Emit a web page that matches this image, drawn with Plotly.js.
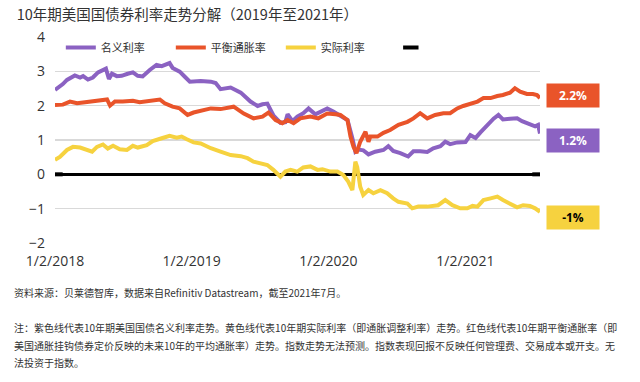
<!DOCTYPE html>
<html>
<head>
<meta charset="utf-8">
<script src="https://cdn.plot.ly/plotly-3.0.1.min.js"></script>
<style>html,body{margin:0;padding:0;background:#fff;}#chart{width:640px;height:382px;}</style>
</head>
<body>
<div id="chart"></div>
<script>
const titleText = "10年期美国国债券利率走势分解（2019年至2021年）";
const seriesNames = ["名义利率", "平衡通胀率", "实际利率"];
const seriesColors = ["#8b62c2", "#e9542a", "#f6d23f"];
const endLabels = ["1.2%", "2.2%", "-1%"];
const xTickVals = ["2018-01-02", "2019-01-02", "2020-01-02", "2021-01-02"];
const xTickText = ["1/2/2018", "1/2/2019", "1/2/2020", "1/2/2021"];
const yTickVals = [-2, -1, 0, 1, 2, 3, 4];
const sourceNote = "资料来源：贝莱德智库，数据来自Refinitiv Datastream，截至2021年7月。";
const noteLines = [
  "注：紫色线代表10年期美国国债名义利率走势。黄色线代表10年期实际利率（即通胀调整利率）走势。红色线代表10年期平衡通胀率（即",
  "美国通胀挂钩债券定价反映的未来10年的平均通胀率）走势。指数走势无法预测。指数表现回报不反映任何管理费、交易成本或开支。无",
  "法投资于指数。"
];

const nominalDates = ["2018-01-02","2018-01-15","2018-01-23","2018-02-03","2018-02-11","2018-02-24","2018-03-10","2018-03-18","2018-03-31","2018-04-13","2018-04-27","2018-05-10","2018-05-18","2018-05-26","2018-06-03","2018-06-16","2018-06-29","2018-07-15","2018-07-29","2018-08-11","2018-08-24","2018-09-12","2018-09-30","2018-10-14","2018-11-04","2018-11-12","2018-12-01","2018-12-14","2018-12-28","2019-01-26","2019-02-22","2019-03-07","2019-03-20","2019-04-16","2019-05-13","2019-06-08","2019-06-27","2019-07-10","2019-07-23","2019-08-08","2019-08-27","2019-09-09","2019-09-15","2019-09-28","2019-10-11","2019-10-27","2019-11-10","2019-11-28","2019-12-17","2019-12-30","2020-01-15","2020-02-03","2020-02-22","2020-03-06","2020-03-14","2020-03-22","2020-04-04","2020-04-18","2020-05-06","2020-05-28","2020-06-10","2020-06-23","2020-07-12","2020-08-02","2020-08-16","2020-09-03","2020-09-22","2020-10-08","2020-10-27","2020-11-09","2020-11-22","2020-12-11","2021-01-02","2021-01-15","2021-01-29","2021-02-11","2021-03-02","2021-03-18","2021-03-31","2021-04-12","2021-05-01","2021-05-20","2021-06-02","2021-06-18","2021-07-07","2021-07-15","2021-07-20"];
const nominalValues = [2.46,2.55,2.63,2.75,2.80,2.88,2.82,2.86,2.76,2.82,2.97,3.04,3.08,2.78,2.93,2.86,2.87,2.93,2.97,2.87,2.85,3.04,3.19,3.15,3.24,3.10,2.99,2.85,2.70,2.72,2.70,2.66,2.48,2.53,2.38,2.12,1.99,2.04,2.06,1.72,1.50,1.52,1.75,1.55,1.68,1.78,1.92,1.75,1.87,1.92,1.83,1.70,1.58,1.05,0.66,0.72,0.70,0.58,0.66,0.71,0.82,0.68,0.62,0.52,0.67,0.67,0.65,0.76,0.82,0.95,0.88,0.93,0.94,1.14,1.06,1.22,1.44,1.62,1.73,1.60,1.62,1.63,1.55,1.49,1.40,1.44,1.19];

const breakevenDates = ["2018-01-02","2018-01-23","2018-02-11","2018-03-02","2018-03-18","2018-04-13","2018-05-02","2018-05-21","2018-05-29","2018-06-11","2018-07-02","2018-07-29","2018-08-16","2018-09-12","2018-10-09","2018-10-22","2018-11-12","2018-12-01","2018-12-22","2019-01-07","2019-01-26","2019-02-22","2019-03-20","2019-04-24","2019-05-21","2019-06-16","2019-07-10","2019-07-26","2019-08-14","2019-09-01","2019-09-15","2019-10-01","2019-10-19","2019-11-15","2019-12-06","2019-12-30","2020-01-21","2020-02-03","2020-02-22","2020-03-01","2020-03-09","2020-03-17","2020-03-27","2020-04-10","2020-04-18","2020-04-23","2020-05-12","2020-05-28","2020-06-15","2020-07-07","2020-07-31","2020-08-16","2020-09-03","2020-09-22","2020-10-13","2020-11-04","2020-11-22","2020-12-11","2020-12-27","2021-01-15","2021-02-03","2021-02-19","2021-03-10","2021-03-28","2021-04-12","2021-05-01","2021-05-14","2021-05-28","2021-06-15","2021-07-01","2021-07-12","2021-07-20"];
const breakevenValues = [2.02,2.03,2.12,2.07,2.09,2.12,2.17,2.18,2.00,2.12,2.12,2.14,2.10,2.14,2.18,2.07,1.97,1.92,1.73,1.80,1.85,1.92,1.90,1.97,1.77,1.63,1.68,1.80,1.58,1.49,1.58,1.49,1.63,1.68,1.63,1.77,1.75,1.73,1.58,1.10,0.80,0.62,0.95,1.24,0.95,1.10,1.10,1.21,1.29,1.44,1.53,1.63,1.78,1.63,1.73,1.78,1.78,1.92,1.99,2.07,2.12,2.22,2.22,2.28,2.31,2.38,2.51,2.41,2.34,2.34,2.31,2.22];

const realDates = ["2018-01-02","2018-01-15","2018-02-03","2018-02-19","2018-03-10","2018-03-28","2018-04-11","2018-04-24","2018-05-10","2018-05-23","2018-06-06","2018-06-24","2018-07-13","2018-07-29","2018-08-11","2018-09-04","2018-09-20","2018-10-14","2018-11-04","2018-11-23","2018-12-06","2018-12-20","2019-01-07","2019-01-26","2019-02-22","2019-03-20","2019-04-16","2019-05-13","2019-05-31","2019-06-16","2019-07-05","2019-07-23","2019-08-08","2019-08-27","2019-09-09","2019-09-23","2019-10-11","2019-10-27","2019-11-15","2019-12-04","2019-12-17","2020-01-07","2020-01-26","2020-02-11","2020-02-24","2020-03-06","2020-03-14","2020-03-19","2020-03-27","2020-04-04","2020-04-18","2020-05-01","2020-05-20","2020-06-07","2020-06-23","2020-07-07","2020-07-31","2020-08-13","2020-08-29","2020-09-22","2020-10-21","2020-11-09","2020-11-28","2020-12-19","2021-01-07","2021-01-21","2021-02-03","2021-02-19","2021-03-10","2021-03-28","2021-04-12","2021-05-06","2021-05-20","2021-06-05","2021-06-23","2021-07-07","2021-07-20"];
const realValues = [0.42,0.51,0.71,0.80,0.78,0.71,0.66,0.80,0.87,0.75,0.83,0.73,0.71,0.83,0.78,0.85,0.97,1.05,1.12,1.07,1.10,1.02,0.93,0.90,0.76,0.66,0.56,0.53,0.47,0.37,0.32,0.27,0.13,-0.07,0.08,0.13,0.08,0.20,0.23,0.13,0.15,0.08,0.08,-0.02,-0.21,-0.46,0.37,0.21,-0.36,-0.60,-0.46,-0.55,-0.46,-0.55,-0.70,-0.80,-0.85,-0.99,-0.94,-0.94,-0.90,-0.75,-0.90,-0.99,-0.99,-0.92,-0.94,-0.75,-0.70,-0.65,-0.75,-0.90,-0.96,-0.90,-0.92,-0.99,-1.09];

const zeroDates = ["2018-01-02", "2021-07-20"];
const zeroValues = [0, 0];

const cjk = '"Noto Sans CJK SC", "Noto Sans", sans-serif';
const txt = '#333333';

const traces = [
  {x: nominalDates, y: nominalValues, name: seriesNames[0], mode: 'lines', line: {color: seriesColors[0], width: 4}},
  {x: breakevenDates, y: breakevenValues, name: seriesNames[1], mode: 'lines', line: {color: seriesColors[1], width: 4}},
  {x: realDates, y: realValues, name: seriesNames[2], mode: 'lines', line: {color: seriesColors[2], width: 4}},
  {x: zeroDates, y: zeroValues, name: ' ', mode: 'markers', cliponaxis: true, marker: {symbol: 'line-ew-open', size: 11, color: '#000', line: {color: '#000', width: 4}}}
];

const labelY = [0.50, 0.7136, 0.124];
const labelFont = ['#ffffff', '#ffffff', '#000000'];
const annotations = [];
for (let i = 0; i < 3; i++) {
  annotations.push({
    xref: 'paper', yref: 'paper', x: 1.068, y: labelY[i], xanchor: 'center', yanchor: 'middle',
    text: '<b>' + endLabels[i] + '</b>', showarrow: false, bgcolor: seriesColors[i],
    width: 48, height: 19, borderpad: 2, font: {family: '"Open Sans", sans-serif', size: 12, color: labelFont[i]}
  });
}
annotations.push({xref: 'paper', yref: 'paper', x: -0.0887, y: -0.2427, xanchor: 'left', yanchor: 'middle', text: sourceNote, showarrow: false, font: {family: cjk, size: 10, color: txt}});
const noteY = [327, 345, 362];
noteLines.forEach((t, i) => {
  annotations.push({xref: 'paper', yref: 'paper', x: -0.0887, y: (243 - noteY[i]) / 206, xanchor: 'left', yanchor: 'middle', text: t, showarrow: false, font: {family: cjk, size: 10, color: txt}});
});

const layout = {
  width: 640, height: 382,
  margin: {l: 55, r: 100, t: 37, b: 139},
  paper_bgcolor: '#fff', plot_bgcolor: '#fff',
  font: {family: cjk, color: txt},
  title: {text: titleText, xref: 'container', yref: 'container', x: 0.026, xanchor: 'left', y: 0.962, yanchor: 'middle', font: {family: cjk, size: 14.5, color: txt}},
  xaxis: {type: 'date', range: ['2018-01-02', '2021-07-20'], tickvals: xTickVals, ticktext: xTickText, showgrid: false, zeroline: false, showline: false, ticks: '', ticklabelstandoff: 8, tickfont: {family: '"Open Sans", sans-serif', size: 14, color: txt}},
  yaxis: {range: [-2, 4], tickvals: yTickVals, showgrid: true, gridcolor: '#d9d9d9', gridwidth: 1.5, zeroline: true, zerolinecolor: '#000', zerolinewidth: 3, showline: false, ticks: '', ticklabelstandoff: 9, tickfont: {family: '"Open Sans", sans-serif', size: 14, color: txt}},
  showlegend: true,
  legend: {orientation: 'h', x: 0.012, y: 1.02, xanchor: 'left', yanchor: 'top', bgcolor: 'rgba(255,255,255,0)', font: {family: cjk, size: 11, color: txt}, entrywidth: 65, entrywidthmode: 'pixels'},
  annotations: annotations
};

Plotly.newPlot('chart', traces, layout, {displayModeBar: false, staticPlot: true});
</script>
</body>
</html>
